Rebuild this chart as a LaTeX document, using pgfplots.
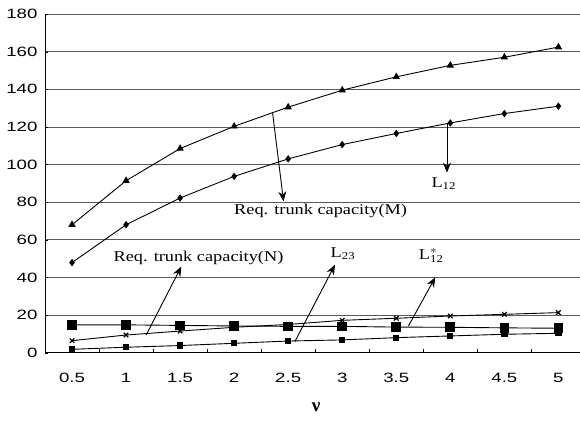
\documentclass[border=0pt]{standalone}
\usepackage{fontspec}
\setmainfont{Liberation Serif}
\newfontfamily\tickfont{Liberation Sans}
\usepackage{pgfplots}
\pgfplotsset{compat=1.18}
\usepackage{pgfplotstable}
\usetikzlibrary{arrows.meta}
\newcommand{\wide}[1]{\scalebox{1.22}[1]{#1}}
\newcommand{\wtick}[1]{\scalebox{1.38}[1]{#1}}
\pgfplotstableread{
x   M     N     Lsq   Lx    Lsm
0.5 68.0  47.9  14.8  6.4   1.8
1   91.4  68.0  14.8  9.4   2.9
1.5 108.5 82.2  14.5  11.5  3.8
2   120.3 93.7  14.2  13.5  5.0
2.5 130.5 103.0 14.0  15.0  6.2
3   139.5 110.6 14.0  17.2  6.8
3.5 146.6 116.5 13.6  18.3  8.0
4   152.7 122.1 13.5  19.5  8.9
4.5 157.0 127.1 13.2  20.4  9.8
5   162.4 131.0 13.0  21.3  10.3
}\data
\begin{document}
\begin{tikzpicture}
\path[use as bounding box] (-45pt,-69.3pt) rectangle (535pt,352.7pt);
\begin{axis}[
  scale only axis,
  width=535pt, height=338.7pt,
  xmin=0.25, xmax=5.2,
  ymin=0, ymax=180,
  axis x line*=bottom, axis y line*=left,
  axis line style={-, black, line width=0.8pt},
  xtick={0.5,1,...,5},
  xticklabels={\wtick{0.5},\wtick{1},\wtick{1.5},\wtick{2},\wtick{2.5},\wtick{3},\wtick{3.5},\wtick{4},\wtick{4.5},\wtick{5}},
  minor xtick={0.75,1.25,...,5.0},
  major x tick style={draw=none},
  minor x tick style={black},
  minor tick length=4pt,
  ytick={0,20,...,180},
  yticklabel={\wtick{\pgfmathprintnumber{\tick}}},
  ymajorgrids,
  major grid style={black!65, line width=0.6pt},
  y tick style={black},
  major tick length=3pt,
  tick align=inside,
  tick label style={font=\tickfont\fontsize{13.5}{14}\selectfont},
  /pgf/number format/assume math mode=true,
  xticklabel style={yshift=-17pt},
  yticklabel style={xshift=-4pt},
  clip=false,
]
\addplot[black, line width=0.9pt, mark=triangle*, mark size=3.4pt] table[x=x,y=M]{\data};
\addplot[black, line width=0.9pt, mark=diamond*, mark size=3pt] table[x=x,y=N]{\data};
\addplot[black, line width=0.9pt, mark=square*, mark size=4.4pt] table[x=x,y=Lsq]{\data};
\addplot[black, line width=0.9pt, mark=x, mark size=3.2pt, mark options={line width=1.2pt}] table[x=x,y=Lx]{\data};
\addplot[black, line width=0.9pt, mark=square*, mark size=2.6pt] table[x=x,y=Lsm]{\data};
% annotations
\draw[line width=0.9pt, -{Stealth[length=10pt,width=8pt]}] (axis cs:2.355,127.8) -- (axis cs:2.457,80.4);
\node[font=\fontsize{15}{15}\selectfont] at (axis cs:2.80,75.5) {\wide{Req. trunk capacity(M)}};
\draw[line width=0.9pt, -{Stealth[length=10pt,width=8pt]}] (axis cs:3.969,122.1) -- (axis cs:3.969,95.7);
\node[font=\fontsize{15}{15}\selectfont] at (axis cs:3.94,90) {\wide{L\textsubscript{12}}};
\node[font=\fontsize{15}{15}\selectfont] at (axis cs:1.67,50.6) {\wide{Req. trunk capacity(N)}};
\draw[line width=0.9pt, -{Stealth[length=10pt,width=8pt]}] (axis cs:1.186,9.4) -- (axis cs:1.511,45.8);
\node[font=\fontsize{15}{15}\selectfont] at (axis cs:3.007,52.5) {\wide{L\textsubscript{23}}};
\draw[line width=0.9pt, -{Stealth[length=10pt,width=8pt]}] (axis cs:2.562,5.9) -- (axis cs:2.933,46.7);
\node[font=\fontsize{15}{15}\selectfont] at (axis cs:3.824,51.5) {\wide{L$^{\ast}_{\mathrm{12}}$}};
\draw[line width=0.9pt, -{Stealth[length=10pt,width=8pt]}] (axis cs:3.613,14.2) -- (axis cs:3.861,40.1);
\end{axis}
\node[font=\bfseries\fontsize{19}{19}\selectfont] at (271pt,-55pt) {ν};
\end{tikzpicture}
\end{document}
